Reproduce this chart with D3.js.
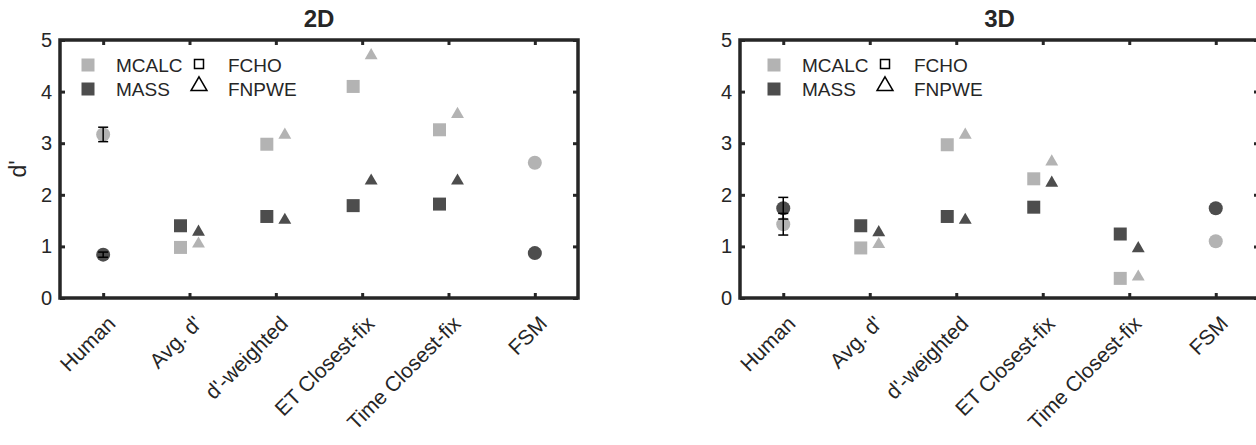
<!DOCTYPE html>
<html>
<head>
<meta charset="utf-8">
<script src="https://cdn.jsdelivr.net/npm/d3@7"></script>
<style>
  body { margin: 0; background: #fff; }
  text { font-family: "Liberation Sans", Arial, Helvetica, sans-serif; fill: #262626; }
</style>
</head>
<body>
<div class="chart"></div>
<script>
// categories on the x axis
const categories = ["Human", "Avg. d'", "d'-weighted", "ET Closest-fix", "Time Closest-fix", "FSM"]
// the four model categories that have square / triangle markers
const modelCategories = ["Avg. d'", "d'-weighted", "ET Closest-fix", "Time Closest-fix"]
const yTicks = [0, 1, 2, 3, 4, 5]
const legendLabels = ["MCALC", "MASS", "FCHO", "FNPWE"]

// 2D
const mcalcFcho2D = [0.98, 2.98, 4.10, 3.26]
const mcalcFnpwe2D = [1.05, 3.16, 4.70, 3.56]
const massFcho2D = [1.40, 1.58, 1.79, 1.82]
const massFnpwe2D = [1.28, 1.51, 2.27, 2.27]
// [MCALC, MASS]
const humanMean2D = [3.17, 0.84]
const humanErr2D = [0.14, 0.05]
const fsm2D = [2.62, 0.87]

// 3D
const mcalcFcho3D = [0.97, 2.97, 2.31, 0.38]
const mcalcFnpwe3D = [1.04, 3.16, 2.64, 0.41]
const massFcho3D = [1.40, 1.58, 1.76, 1.24]
const massFnpwe3D = [1.27, 1.51, 2.23, 0.96]
const humanMean3D = [1.43, 1.74]
const humanErr3D = [0.21, 0.21]
const fsm3D = [1.10, 1.74]

const light = "#b3b3b3"
const dark = "#4d4d4d"
const ink = "#262626"

const svg = d3.select(".chart").append("svg")
  .attr("width", 1256)
  .attr("height", 445)

function drawPanel(cfg) {
  const g = svg.append("g").attr("transform", `translate(${cfg.x},${cfg.y})`)

  const x = d3.scalePoint().domain(categories).range([0, cfg.width]).padding(0.5)
  const y = d3.scaleLinear().domain([0, 5]).range([cfg.height, 0])

  // 坐标轴 (ticks pointing inward on all four sides)
  const bottom = g.append("g")
    .attr("transform", `translate(0,${cfg.height})`)
    .call(d3.axisBottom(x).tickSize(-5).tickPadding(0))
  bottom.selectAll("text")
    .attr("text-anchor", "end")
    .attr("y", 0)
    .attr("dy", 0)
    .attr("transform", "translate(13,27) rotate(-45)")
    .style("font-size", "21px")

  g.append("g").call(d3.axisTop(x).tickSize(-5).tickFormat(""))

  g.append("g")
    .call(d3.axisLeft(y).tickValues(yTicks).tickSize(-5).tickPadding(8).tickFormat(d3.format("d")))
    .selectAll("text")
    .style("font-size", "20px")

  g.append("g")
    .attr("transform", `translate(${cfg.width},0)`)
    .call(d3.axisRight(y).tickValues(yTicks).tickSize(-5).tickFormat(""))

  g.selectAll(".domain").remove()
  g.selectAll(".tick line").attr("stroke", ink).attr("stroke-width", 3)
  g.selectAll(".tick text").attr("fill", ink)

  g.append("rect")
    .attr("width", cfg.width)
    .attr("height", cfg.height)
    .attr("fill", "none")
    .attr("stroke", ink)
    .attr("stroke-width", 3.5)

  // title
  g.append("text")
    .attr("x", cfg.width / 2)
    .attr("y", -13)
    .attr("text-anchor", "middle")
    .style("font-size", "24px")
    .style("font-weight", "bold")
    .text(cfg.title)

  const square = d3.symbol().type(d3.symbolSquare).size(169)
  const tri = d3.symbol().type(d3.symbolTriangle).size(72)

  const series = [
    { values: cfg.mcalcFcho, color: light, shape: square, dx: -9 },
    { values: cfg.massFcho, color: dark, shape: square, dx: -9 },
    { values: cfg.mcalcFnpwe, color: light, shape: tri, dx: 9 },
    { values: cfg.massFnpwe, color: dark, shape: tri, dx: 9 },
  ]
  series.forEach((s) => {
    g.selectAll(null)
      .data(s.values)
      .join("path")
      .attr("d", s.shape)
      .attr("fill", s.color)
      .attr("transform", (d, i) => `translate(${x(modelCategories[i]) + s.dx},${y(d)})`)
  })

  // human and FSM circles: [MCALC, MASS]
  const colors = [light, dark]
  colors.forEach((c, k) => {
    g.append("circle")
      .attr("cx", x("Human"))
      .attr("cy", y(cfg.humanMean[k]))
      .attr("r", 7)
      .attr("fill", c)
    g.append("circle")
      .attr("cx", x("FSM"))
      .attr("cy", y(cfg.fsm[k]))
      .attr("r", 7)
      .attr("fill", c)
  })

  // error bars
  cfg.humanMean.forEach((m, k) => {
    const cx = x("Human")
    const lo = y(m - cfg.humanErr[k])
    const hi = y(m + cfg.humanErr[k])
    const eb = g.append("g").attr("stroke", "#000").attr("stroke-width", 1.5)
    eb.append("line").attr("x1", cx).attr("x2", cx).attr("y1", lo).attr("y2", hi)
    eb.append("line").attr("x1", cx - 5).attr("x2", cx + 5).attr("y1", lo).attr("y2", lo)
    eb.append("line").attr("x1", cx - 5).attr("x2", cx + 5).attr("y1", hi).attr("y2", hi)
  })

  // legend
  const lg = g.append("g").attr("transform", `translate(${cfg.legendX},0)`)
  const rows = [25, 49]
  lg.append("path").attr("d", square).attr("fill", light).attr("transform", `translate(0,${rows[0]})`)
  lg.append("path").attr("d", square).attr("fill", dark).attr("transform", `translate(0,${rows[1]})`)
  lg.append("path").attr("d", d3.symbol().type(d3.symbolSquare).size(81)).attr("fill", "none")
    .attr("stroke", "#000").attr("stroke-width", 1.5).attr("transform", `translate(111,${rows[0] - 1})`)
  lg.append("path").attr("d", d3.symbol().type(d3.symbolTriangle).size(110)).attr("fill", "none")
    .attr("stroke", "#000").attr("stroke-width", 1.5).attr("transform", `translate(111,${rows[1] - 3})`)
  const tx = [28, 28, 140, 140]
  const ty = [rows[0], rows[1], rows[0], rows[1]]
  legendLabels.forEach((t, i) => {
    lg.append("text")
      .attr("x", tx[i])
      .attr("y", ty[i])
      .attr("dy", "0.35em")
      .style("font-size", "19px")
      .text(t)
  })
}

drawPanel({
  title: "2D", x: 60, y: 40, width: 518, height: 258, legendX: 28,
  mcalcFcho: mcalcFcho2D, mcalcFnpwe: mcalcFnpwe2D, massFcho: massFcho2D, massFnpwe: massFnpwe2D,
  humanMean: humanMean2D, humanErr: humanErr2D, fsm: fsm2D,
})

drawPanel({
  title: "3D", x: 740, y: 40, width: 519, height: 258, legendX: 34,
  mcalcFcho: mcalcFcho3D, mcalcFnpwe: mcalcFnpwe3D, massFcho: massFcho3D, massFnpwe: massFnpwe3D,
  humanMean: humanMean3D, humanErr: humanErr3D, fsm: fsm3D,
})

// y label
svg.append("text")
  .attr("transform", "translate(26,169) rotate(-90)")
  .attr("text-anchor", "middle")
  .style("font-size", "23px")
  .text("d'")
</script>
</body>
</html>
